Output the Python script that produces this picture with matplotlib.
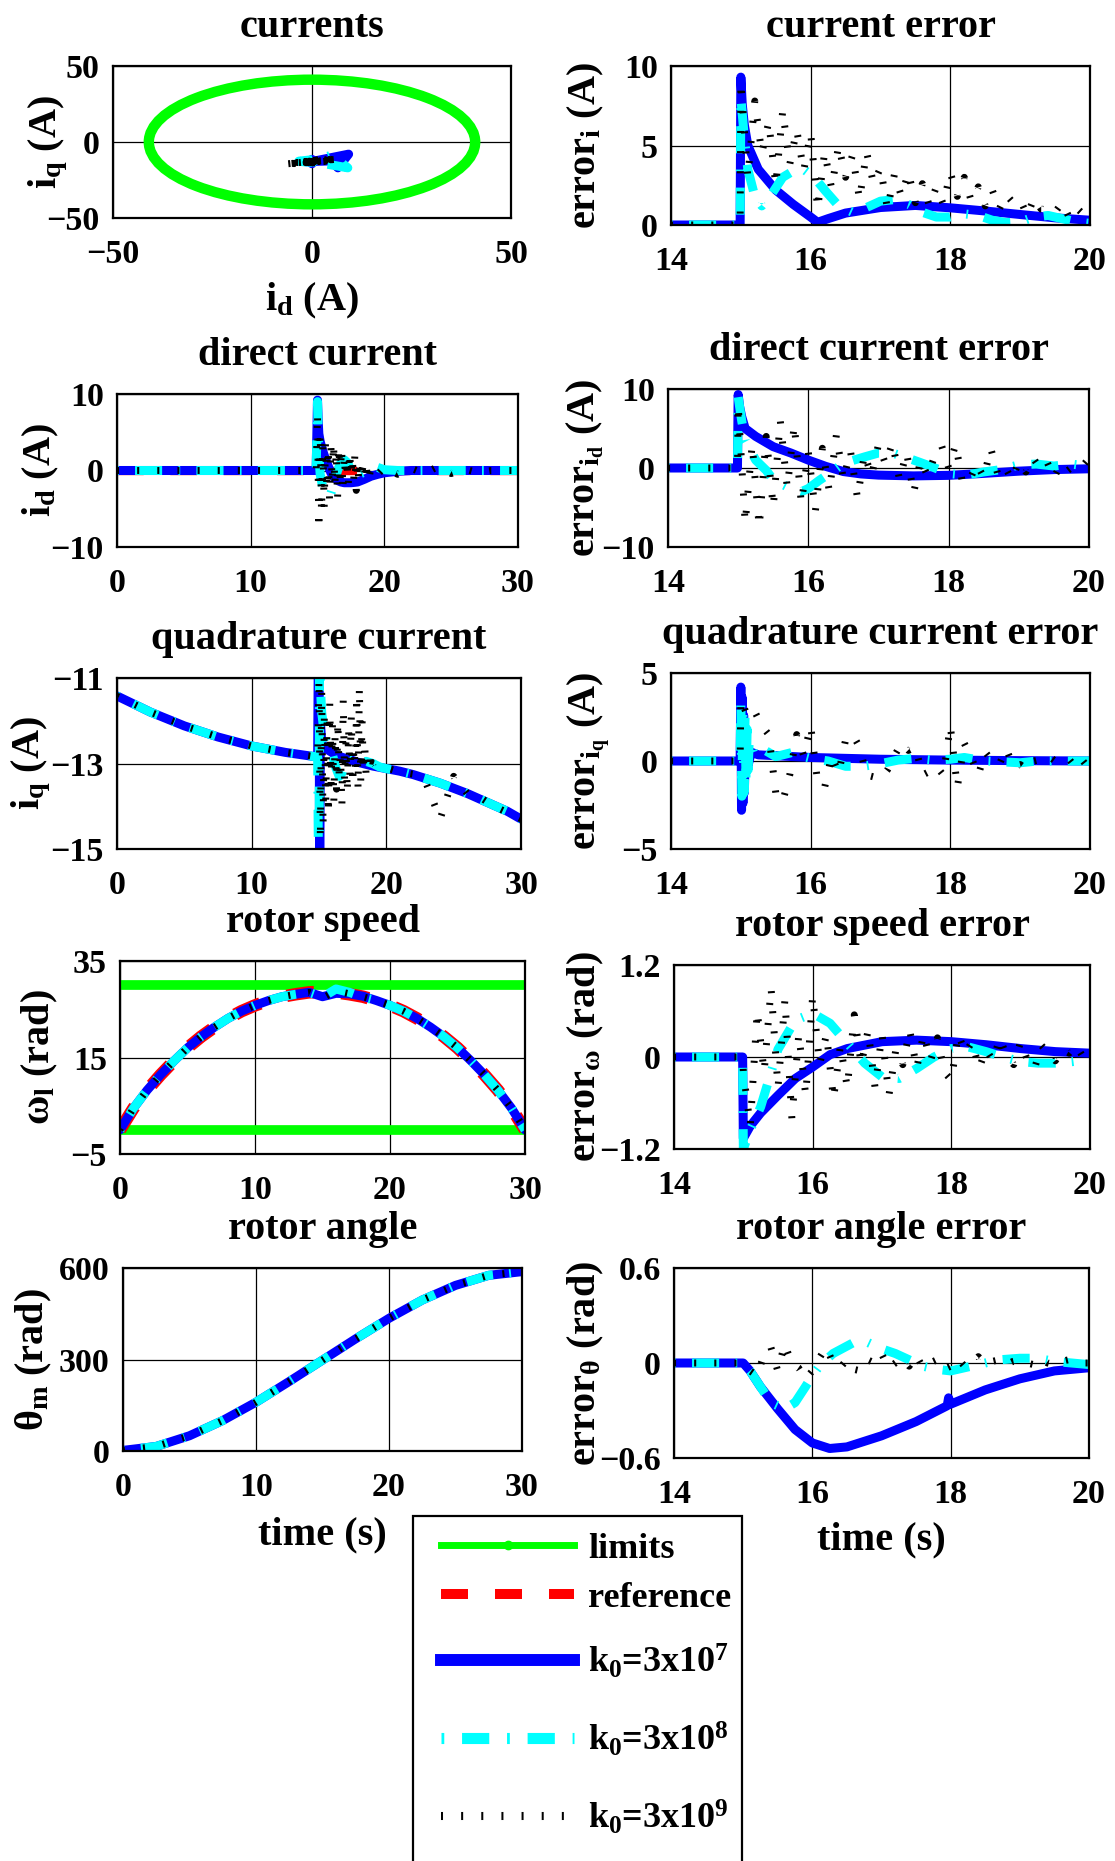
import numpy as np
import matplotlib
matplotlib.use('Agg')
import matplotlib.pyplot as plt
from matplotlib.patches import Ellipse, Rectangle
from matplotlib.lines import Line2D
from matplotlib.ticker import FuncFormatter

plt.rcParams['font.family'] = ['Liberation Serif', 'DejaVu Serif']
plt.rcParams['font.weight'] = 'bold'
plt.rcParams['font.size'] = 29
plt.rcParams['axes.titleweight'] = 'bold'
plt.rcParams['axes.labelweight'] = 'bold'
plt.rcParams['mathtext.fontset'] = 'custom'
plt.rcParams['mathtext.rm'] = 'Liberation Serif:bold'
plt.rcParams['mathtext.it'] = 'Liberation Serif:bold'
plt.rcParams['mathtext.bf'] = 'Liberation Serif:bold'

FS = 29      # titles / axis labels
TFS = 24.5   # tick labels
LFS = 26     # legend

# ---------------- data ----------------
i_max = 41          # current limit circle radius (A)
w_lo, w_hi = 0, 30  # speed limits (rad/s)
t_lim = [0, 30]

# full-run signals, k0=3e7 and 3e8 share this time base
t_full = [0, 2.5, 5, 7.5, 10, 12.5, 14.9, 15.0, 15.05, 15.1, 15.2, 15.35, 15.5, 15.75,
          16.0, 16.25, 16.5, 16.75, 17.0, 17.25, 17.5, 17.75, 18.0, 18.5, 19.0, 19.5, 20.0,
          21, 22, 23, 24, 25, 26, 27, 28, 29, 30]
id_ref = [0, 0]
id_k7 = [0, 0, 0, 0, 0, 0, 0, 9.2, 6.5, 4.8, 3.8, 2.8, 2.0, 0.8,
         -0.3, -0.9, -1.3, -1.5, -1.6, -1.6, -1.6, -1.55, -1.5, -1.15, -0.75, -0.5, -0.3,
         -0.1, 0, 0, 0, 0, 0, 0, 0, 0, 0]
id_k8 = [0, 0, 0, 0, 0, 0, 0, 9.0, 5.0, 2.0, -0.5, -1.8, -2.7, -3.3,
         -3.0, -1.6, 0.0, 1.0, 1.4, 1.0, 0.0, -0.5, -0.6, -0.2, 0.3, 0.4, 0.1,
         0.0, 0, 0, 0, 0, 0, 0, 0, 0, 0]
iq_k7 = [-11.42, -11.8, -12.12, -12.38, -12.59, -12.74, -12.85, -8.0, -17.0, -12.0, -12.5, -12.6, -12.65, -12.7,
         -12.75, -12.8, -12.83, -12.86, -12.88, -12.9, -12.93, -12.96, -12.98, -13.02, -13.06, -13.09, -13.12,
         -13.18, -13.26, -13.36, -13.46, -13.58, -13.7, -13.84, -13.98, -14.12, -14.3]
iq_k8 = [-11.42, -11.8, -12.12, -12.38, -12.59, -12.74, -12.85, -17.0, -8.5, -11.2, -11.8, -12.2, -12.45, -12.6,
         -12.8, -13.1, -13.3, -13.2, -12.95, -12.85, -12.9, -12.98, -13.0, -12.95, -13.0, -13.08, -13.12,
         -13.18, -13.26, -13.36, -13.46, -13.58, -13.7, -13.84, -13.98, -14.12, -14.3]

# k0=3e9 (noisy) full-run signals
t_full_k9 = np.concatenate(([0, 2.5, 5, 7.5, 10, 12.5, 14.9], np.linspace(15, 19, 41),
                            [19.5, 20, 21, 22, 23, 24, 25, 26, 27, 28, 30]))
id_k9 = [0, 0, 0, 0, 0, 0, 0,
         7.5, -7.8, 5.0, -5.5, 3.5, -4.8, 3.6, -2.5, 3.0, -3.8,
         3.3, -1.5, 3.6, -2.0, 2.5, -3.8, 3.2, -1.0, 3.0, -2.5,
         2.0, -1.0, 1.5, -2.0, 2.5, -0.5, 1.8, -1.5, 2.2, -2.6,
         1.0, -1.5, 0.8, -0.5, 0.5, -1.0, 1.2, -0.3, 0.6, -0.6,
         0.5,
         -0.5, 0.4, -0.5, 0.3, -0.4, 0.5, -0.4, 0.2, -0.3, 0, 0]
iq_k9 = [-11.42, -11.8, -12.12, -12.38, -12.59, -12.74, -12.85,
         -11.0, -14.8, -11.3, -14.5, -11.8, -13.9, -12.0, -14.2, -11.6, -13.5,
         -12.1, -13.9, -12.3, -13.6, -12.0, -13.3, -12.8, -14.0, -11.5, -13.4,
         -12.5, -13.7, -12.2, -13.3, -11.9, -13.5, -12.6, -13.2, -11.4, -13.6,
         -11.2, -13.4, -12.0, -13.2, -12.6, -13.3, -12.9, -13.1, -12.9, -13.2,
         -13.0,
         -13.05, -13.1, -13.2, -13.25, -13.5, -14.3, -13.3, -13.7, -13.8, -14.0, -14.3]

# rotor speed and angle
t_speed = list(range(31))
speed_ref = [0, 4.5, 8.2, 11.4, 14.3, 17.0, 19.3, 21.3, 23.1, 24.6, 25.8, 26.8, 27.6, 28.1, 28.5, 28.6,
             28.5, 28.1, 27.6, 26.8, 25.8, 24.6, 23.1, 21.3, 19.3, 17.0, 14.3, 11.4, 8.2, 4.5, 0]
speed_k7 = [0, 4.5, 8.2, 11.4, 14.3, 17.0, 19.3, 21.3, 23.1, 24.6, 25.8, 26.8, 27.6, 28.1, 28.5, 27.6,
            28.3, 28.2, 27.7, 26.8, 25.8, 24.6, 23.1, 21.3, 19.3, 17.0, 14.3, 11.4, 8.2, 4.5, 0]
speed_k8 = [0, 4.5, 8.2, 11.4, 14.3, 17.0, 19.3, 21.3, 23.1, 24.6, 25.8, 26.8, 27.6, 28.1, 28.5, 27.5,
            29.2, 28.5, 27.5, 26.8, 25.8, 24.6, 23.1, 21.3, 19.3, 17.0, 14.3, 11.4, 8.2, 4.5, 0]
speed_k9 = [0, 4.5, 8.2, 11.4, 14.3, 17.0, 19.3, 21.3, 23.1, 24.6, 25.8, 26.8, 27.6, 28.1, 28.5, 27.3,
            28.8, 28.2, 27.6, 26.8, 25.8, 24.6, 23.1, 21.3, 19.3, 17.0, 14.3, 11.4, 8.2, 4.5, 0]
t_angle = [0, 2.5, 5, 7.5, 10, 12.5, 15, 17.5, 20, 22.5, 25, 27.5, 30]
angle_k = [2, 15, 50, 100, 160, 228, 298, 368, 435, 495, 543, 576, 588]

# error signals 14..20 s
t_ei_k7 = [14, 14.99, 15.0, 15.02, 15.05, 15.1, 15.25, 15.5, 15.75, 16.0, 16.1, 16.25, 16.5, 17.0, 17.5, 18.0, 18.5, 19.0, 19.5, 20]
ei_k7 = [0, 0, 9.3, 7.6, 6.3, 5.0, 3.5, 2.2, 1.3, 0.5, 0.17, 0.4, 0.75, 1.1, 1.23, 1.08, 0.88, 0.66, 0.45, 0.3]
t_ei_k8 = [14, 14.99, 15.0, 15.05, 15.1, 15.2, 15.3, 15.45, 15.6, 15.75, 15.9, 16.05, 16.2, 16.4, 16.6, 16.8,
           17.0, 17.2, 17.4, 17.6, 17.8, 18.0, 18.2, 18.4, 18.6, 18.8, 19.0, 19.2, 19.4, 19.6, 19.8, 20.0]
ei_k8 = [0, 0, 8.0, 5.5, 3.5, 1.8, 1.2, 2.0, 3.0, 3.4, 3.5, 3.0, 2.2, 1.2, 0.8, 1.1,
         1.5, 1.6, 1.3, 0.8, 0.5, 0.5, 0.7, 0.6, 0.3, 0.15, 0.2, 0.5, 0.6, 0.4, 0.2, 0.1]

t_eid_k7 = [14, 14.99, 15.0, 15.02, 15.05, 15.1, 15.25, 15.5, 15.75, 16.0, 16.25, 16.5, 16.75, 17.0, 17.5, 18.0, 18.5, 19.0, 19.5, 20]
eid_k7 = [0, 0, 9.3, 7.8, 6.5, 5.0, 4.0, 2.7, 1.9, 1.0, 0.2, -0.45, -0.75, -0.9, -1.0, -0.93, -0.68, -0.4, -0.2, -0.1]
t_eid_k8 = [14, 14.99, 15.0, 15.05, 15.1, 15.25, 15.4, 15.5, 15.75, 15.9, 16.0, 16.15, 16.3, 16.5, 16.8,
            17.0, 17.2, 17.5, 17.75, 18.0, 18.25, 18.5, 18.75, 19.0, 19.25, 19.5, 19.75, 20.0]
eid_k8 = [0, 0, 9.0, 6.0, 3.5, 1.0, -0.3, -1.5, -2.6, -3.0, -2.6, -1.6, -0.7, 0.6, 1.4,
          1.9, 1.9, 1.0, 0.2, -0.7, -0.9, -0.5, -0.2, 0.4, 0.5, 0.25, 0.5, 0.2]

t_eiq_k7 = [14, 14.99, 15.0, 15.01, 15.02, 15.03, 15.04, 15.05, 15.07, 15.1, 15.15, 15.25, 15.5, 16.0, 16.5, 17.0, 18.0, 19.0, 20.0]
eiq_k7 = [0, 0, 4.2, -2.8, 3.6, -2.4, 2.6, -1.8, 1.5, -0.3, 0.5, 0.35, 0.3, 0.2, 0.15, 0.1, 0.05, 0.02, 0.0]
t_eiq_k8 = [14, 14.99, 15.0, 15.015, 15.03, 15.045, 15.06, 15.075, 15.09, 15.105, 15.12, 15.18, 15.25, 15.35,
            15.5, 15.75, 15.9, 16.0, 16.25, 16.5, 16.75, 17.0, 17.25, 17.5, 17.75, 18.0, 18.2, 18.5, 18.75,
            19.0, 19.25, 19.5, 20.0]
eiq_k8 = [0, 0, 3.5, -2.0, 3.0, -1.8, 2.5, -1.2, 1.8, -0.5, 1.2, 0.5, 0.8, 0.6,
          0.25, 0.5, 0.25, 0.15, 0.0, -0.3, -0.3, -0.15, 0.05, 0.15, 0.05, 0.1, 0.2, 0.0, -0.05,
          -0.1, 0.0, 0.0, 0.0]

t_ew_k7 = [14, 14.99, 15.0, 15.1, 15.25, 15.5, 15.75, 16.0, 16.25, 16.5, 17.0, 17.5, 18.0, 18.5, 19.0, 19.5, 20.0]
ew_k7 = [0, 0, -1.06, -0.9, -0.73, -0.5, -0.28, -0.13, 0.03, 0.11, 0.2, 0.22, 0.2, 0.16, 0.11, 0.07, 0.05]
t_ew_k8 = [14, 14.99, 15.0, 15.1, 15.25, 15.5, 15.75, 16.0, 16.25, 16.5, 16.75, 17.0, 17.25, 17.5, 17.75,
           18.0, 18.25, 18.5, 18.75, 19.0, 19.25, 19.5, 19.75, 20.0]
ew_k8 = [0, 0, -1.2, -0.95, -0.65, 0.1, 0.48, 0.57, 0.44, 0.18, -0.08, -0.26, -0.28, -0.15, 0.0,
         0.11, 0.13, 0.07, 0.0, -0.06, -0.08, -0.08, -0.06, -0.03]

t_eth_k7 = [14, 15.0, 15.1, 15.25, 15.5, 15.75, 16.0, 16.25, 16.5, 17.0, 17.5, 17.95, 17.97, 18.0, 18.5, 19.0, 19.5, 20.0]
eth_k7 = [0, 0, -0.05, -0.15, -0.29, -0.42, -0.505, -0.54, -0.53, -0.46, -0.37, -0.27, -0.22, -0.26, -0.17, -0.1, -0.05, -0.03]
t_eth_k8 = [14, 15.0, 15.1, 15.25, 15.4, 15.6, 15.75, 15.9, 16.0, 16.1, 16.3, 16.6, 16.8, 17.0, 17.2,
            17.4, 17.6, 17.8, 18.0, 18.2, 18.5, 18.7, 19.0, 19.25, 19.5, 19.75, 20.0]
eth_k8 = [0, 0, -0.05, -0.15, -0.25, -0.29, -0.25, -0.15, -0.08, -0.02, 0.06, 0.13, 0.13, 0.09, 0.06,
          0.02, -0.02, -0.04, -0.05, -0.03, 0.0, 0.02, 0.03, 0.03, 0.01, 0.0, -0.01]

# k0=3e9 errors, sampled every 0.1 s from 15 s
t_err_k9 = np.concatenate(([14.0, 14.99], np.linspace(15, 20, 51)))
ei_k9 = [0, 0,
         9.0, 3.0, 7.8, 4.5, 6.5, 2.5, 7.2, 3.8, 6.0, 3.4,
         5.8, 1.0, 4.6, 2.3, 5.0, 3.0, 4.4, 1.6, 4.6, 2.6,
         3.6, 1.0, 3.2, 1.8, 3.3, 1.4, 2.6, 1.2, 2.4, 1.3,
         3.3, 1.8, 3.0, 1.5, 2.4, 1.2, 2.2, 1.0, 1.9, 1.4,
         1.6, 0.6, 1.7, 1.0, 1.0, 0.8, 1.4, 0.5, 1.1, 0.7,
         1.3]
eid_k9 = [0, 0,
          8.0, -7.0, 3.0, -7.5, 4.0, -5.0, 6.0, -2.5, 5.5, -4.5,
          2.0, -5.5, 2.5, -3.0, 4.2, -1.5, 2.2, -3.8, 1.8, -1.0,
          3.0, 0.5, 3.2, -1.5, 2.0, -3.2, 1.0, -1.0, 1.5, 2.8,
          0.0, 3.0, -2.0, -1.5, 0.5, -1.2, 2.5, -0.8, 0.2, -1.5,
          0.8, -0.5, 1.3, 0.0, 0.8, -1.2, 0.5, -0.3, 0.4, 0.2,
          1.2]
eiq_k9 = [0, 0,
          3.5, 2.5, 2.8, 2.0, 1.5, -1.8, -2.3, -0.8, 1.5, 0.3,
          2.0, -1.2, -1.5, 0.3, -0.7, 1.2, 1.5, 0.8, -0.8, -0.9,
          -1.0, -0.5, 0.3, 1.0, 0.6, 0.8, -0.8, -0.6, -0.3, -0.8,
          2.0, -1.5, 1.0, 0.2, -0.8, 0.5, 0.0, -0.2, 0.7, -0.3,
          -0.2, -0.5, 0.0, 0.1, 0.3, 0.0, 0.2, 0.1, -0.4, 0.0,
          -0.5]
ew_k9 = [0, 0,
         -0.2, -0.9, 0.6, -0.2, 0.9, -0.4, 0.75, -0.8, 0.3, -0.5,
         0.8, -0.1, 0.3, -0.55, 0.15, -0.4, 0.55, -0.1, 0.35, -0.4,
         0.3, -0.5, 0.1, -0.1, 0.35, -0.15, 0.3, -0.05, 0.25, -0.2,
         -0.3, 0.3, 0.05, 0.2, -0.15, 0.1, -0.05, 0.25, 0.0, -0.1,
         0.2, -0.05, -0.15, 0.15, 0.05, -0.05, 0.1, 0.05, 0.15, 0.0,
         -0.05]
eth_k9 = [0, 0,
          0.0, -0.05, -0.08, 0.05, 0.1, -0.05, 0.12, 0.0, -0.03, -0.1,
          -0.05, 0.03, 0.1, 0.0, -0.03, 0.02, -0.04, -0.05, 0.02, 0.0,
          0.06, -0.03, 0.0, 0.03, -0.02, 0.05, -0.03, 0.0, 0.02, -0.04,
          -0.02, 0.03, -0.02, 0.0, 0.04, -0.01, 0.01, 0.02, -0.01, 0.01,
          0.02, 0.0, -0.01, 0.03, 0.0, -0.01, 0.01, 0.02, 0.01, 0.0,
          0.0]

legend_labels = ['limits', 'reference', '$k_0$=3x10$^7$', '$k_0$=3x10$^8$', '$k_0$=3x10$^9$']

# ---------------- styles ----------------
GREEN = dict(color=(0, 1, 0), lw=7, solid_capstyle='round')
RED = dict(color=(1, 0, 0), lw=9, dashes=(2.2, 2.2), dash_capstyle='butt')
BLUE = dict(color=(0, 0, 1), lw=6.5, solid_capstyle='round', solid_joinstyle='round')
CYAN = dict(color=(0, 1, 1), lw=6.5, dashes=(0.2, 1.8, 3.0, 1.8), dash_capstyle='butt')
BLACK = dict(color='k', lw=5, dashes=(0.3, 2.6), dash_capstyle='butt')

W, H = 1115, 1861
fig = plt.figure(figsize=(W / 100, H / 100), dpi=100)


def box(l, t, r, b):
    return fig.add_axes([l / W, 1 - b / H, (r - l) / W, (b - t) / H])


minus = FuncFormatter(lambda v, p: ('%g' % v).replace('-', '\u2212'))


def setup(ax, xlim, xt, ylim, yt, title, ylabel, ylab_x):
    ax.set_xlim(xlim)
    ax.set_ylim(ylim)
    ax.set_xticks(xt)
    ax.set_yticks(yt)
    ax.xaxis.set_major_formatter(minus)
    ax.yaxis.set_major_formatter(minus)
    ax.tick_params(length=0, labelsize=TFS)
    ax.tick_params(axis='x', pad=15)
    ax.tick_params(axis='y', pad=9.5)
    ax.grid(True, color='k', lw=0.9)
    ax.set_axisbelow(True)
    for s in ax.spines.values():
        s.set_linewidth(1.6)
    ax.set_title(title, fontsize=FS, pad=21)
    ax.set_ylabel(ylabel, fontsize=FS)
    ax.yaxis.label.set_va('center')
    # label centre given in figure pixels
    pos = ax.get_position()
    ax.yaxis.set_label_coords((ylab_x / W - pos.x0) / pos.width, 0.5)


# currents (phase plane)
ax = box(113, 66, 511, 218)
ax.add_patch(Ellipse((0, 0), 2 * i_max, 2 * i_max, fill=False, ec=(0, 1, 0), lw=7.5))
ax.plot(id_k7, iq_k7, **BLUE)
ax.plot(id_k8, iq_k8, **CYAN)
ax.plot(id_k9, iq_k9, **BLACK)
setup(ax, (-50, 50), [-50, 0, 50], (-50, 50), [-50, 0, 50], 'currents', '$i_q$ (A)', 48)
ax.set_xlabel('$i_d$ (A)', fontsize=FS, va='baseline')
ax.xaxis.set_label_coords(0.5, -0.61)

# current error
ax = box(671, 66, 1090, 225)
ax.plot(t_ei_k7, ei_k7, **BLUE)
ax.plot(t_ei_k8, ei_k8, **CYAN)
ax.plot(t_err_k9, ei_k9, **BLACK)
setup(ax, (14, 20), [14, 16, 18, 20], (0, 10), [0, 5, 10], 'current error', 'error$_i$ (A)', 586)

# direct current
ax = box(117, 394, 518, 547)
ax.plot(t_lim, id_ref, **dict(RED, lw=6, dashes=(3.2, 3.2)))
ax.plot(t_full, id_k7, **BLUE)
ax.plot(t_full, id_k8, **CYAN)
ax.plot(t_full_k9, id_k9, **BLACK)
setup(ax, (0, 30), [0, 10, 20, 30], (-10, 10), [-10, 0, 10], 'direct current', '$i_d$ (A)', 41)

# direct current error
ax = box(668, 389, 1089, 547)
ax.plot(t_eid_k7, eid_k7, **BLUE)
ax.plot(t_eid_k8, eid_k8, **CYAN)
ax.plot(t_err_k9, eid_k9, **BLACK)
setup(ax, (14, 20), [14, 16, 18, 20], (-10, 10), [-10, 0, 10], 'direct current error',
      'error$_{i_d}$ (A)', 585)

# quadrature current
ax = box(117, 678, 521, 849)
ax.plot(t_full, iq_k7, **BLUE)
ax.plot(t_full, iq_k8, **CYAN)
ax.plot(t_full_k9, iq_k9, **BLACK)
setup(ax, (0, 30), [0, 10, 20, 30], (-15, -11), [-15, -13, -11], 'quadrature current', '$i_q$ (A)', 31)

# quadrature current error
ax = box(671, 673, 1090, 849)
ax.plot(t_eiq_k7, eiq_k7, **BLUE)
ax.plot(t_eiq_k8, eiq_k8, **CYAN)
ax.plot(t_err_k9, eiq_k9, **BLACK)
setup(ax, (14, 20), [14, 16, 18, 20], (-5, 5), [-5, 0, 5], 'quadrature current error',
      'error$_{i_q}$ (A)', 589)

# rotor speed
ax = box(120, 961, 525, 1154)
ax.plot(t_lim, [w_hi, w_hi], **GREEN)
ax.plot(t_lim, [w_lo, w_lo], **GREEN)
ax.plot(t_speed, speed_ref, **RED)
ax.plot(t_speed, speed_k7, **BLUE)
ax.plot(t_speed, speed_k8, **CYAN)
ax.plot(t_speed, speed_k9, **BLACK)
setup(ax, (0, 30), [0, 10, 20, 30], (-5, 35), [-5, 15, 35], 'rotor speed', '$ω_l$ (rad)', 40)

# rotor speed error
ax = box(674, 965, 1090, 1149)
ax.plot(t_ew_k7, ew_k7, **BLUE)
ax.plot(t_ew_k8, ew_k8, **CYAN)
ax.plot(t_err_k9, ew_k9, **BLACK)
setup(ax, (14, 20), [14, 16, 18, 20], (-1.2, 1.2), [-1.2, 0, 1.2], 'rotor speed error',
      'error$_ω$ (rad)', 586)

# rotor angle
ax = box(123, 1268, 522, 1451)
ax.plot(t_angle, angle_k, **BLUE)
ax.plot(t_angle, angle_k, **CYAN)
ax.plot(t_angle, angle_k, **BLACK)
setup(ax, (0, 30), [0, 10, 20, 30], (0, 600), [0, 300, 600], 'rotor angle', '$θ_m$ (rad)', 34)
ax.set_xlabel('time (s)', fontsize=FS, va='baseline')
ax.xaxis.set_label_coords(0.5, -0.51)

# rotor angle error
ax = box(674, 1268, 1089, 1458)
ax.plot(t_eth_k7, eth_k7, **BLUE)
ax.plot(t_eth_k8, eth_k8, **CYAN)
ax.plot(t_err_k9, eth_k9, **BLACK)
setup(ax, (14, 20), [14, 16, 18, 20], (-0.6, 0.6), [-0.6, 0, 0.6], 'rotor angle error',
      'error$_θ$ (rad)', 586)
ax.set_xlabel('time (s)', fontsize=FS, va='baseline')
ax.xaxis.set_label_coords(0.5, -0.48)

# legend: one entry per row (rows are unevenly spaced in the original)
handles = [
    Line2D([], [], color=(0, 1, 0), lw=5, marker='o', markersize=6),
    Line2D([], [], color=(1, 0, 0), lw=7.2, dashes=(2.7, 2.7), dash_capstyle='butt'),
    Line2D([], [], color=(0, 0, 1), lw=8.6),
    Line2D([], [], color=(0, 1, 1), lw=8, dashes=(0.25, 1.6, 2.45, 1.6), dash_capstyle='butt'),
    Line2D([], [], color='k', lw=5.8, dashes=(0.25, 2.25), dash_capstyle='butt'),
]
row_y = [1549, 1598, 1662, 1740, 1818]
for h, lab, y in zip(handles, legend_labels, row_y):
    lg = fig.legend([h], [lab], loc='center left', bbox_to_anchor=(441 / W, 1 - y / H),
                    frameon=False, borderpad=0, borderaxespad=0, handlelength=133 / (LFS * 100 / 72),
                    handletextpad=0.4, fontsize=LFS, numpoints=1)
fig.add_artist(Rectangle((413 / W, -0.01), (742 - 413) / W, 0.01 + (H - 1516) / H,
                         transform=fig.transFigure, fill=False, ec='k', lw=1.6))

fig.savefig('out.png', dpi=100)
